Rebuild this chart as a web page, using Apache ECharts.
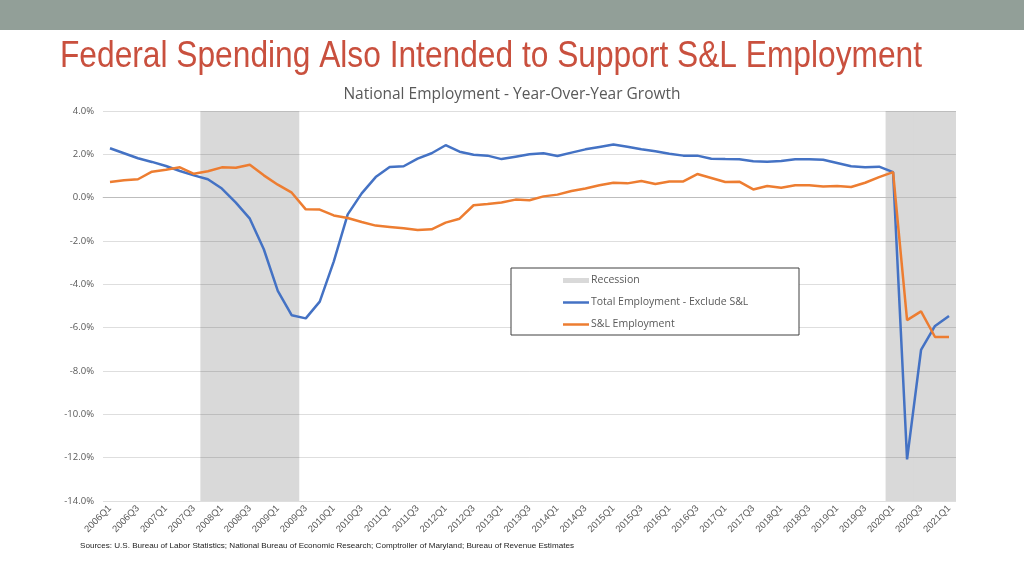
<!DOCTYPE html>
<html>
<head>
<meta charset="utf-8">
<script src="https://cdn.jsdelivr.net/npm/echarts@6/dist/echarts.min.js"></script>
<style>
html,body{margin:0;padding:0;background:#fff;}
#c{width:1024px;height:576px;}
</style>
</head>
<body>
<div id="c"></div>
<script>
const quarters = [
 '2006Q1','2006Q2','2006Q3','2006Q4','2007Q1','2007Q2','2007Q3','2007Q4',
 '2008Q1','2008Q2','2008Q3','2008Q4','2009Q1','2009Q2','2009Q3','2009Q4',
 '2010Q1','2010Q2','2010Q3','2010Q4','2011Q1','2011Q2','2011Q3','2011Q4',
 '2012Q1','2012Q2','2012Q3','2012Q4','2013Q1','2013Q2','2013Q3','2013Q4',
 '2014Q1','2014Q2','2014Q3','2014Q4','2015Q1','2015Q2','2015Q3','2015Q4',
 '2016Q1','2016Q2','2016Q3','2016Q4','2017Q1','2017Q2','2017Q3','2017Q4',
 '2018Q1','2018Q2','2018Q3','2018Q4','2019Q1','2019Q2','2019Q3','2019Q4',
 '2020Q1','2020Q2','2020Q3','2020Q4','2021Q1'
];
const totalExSL = [
 2.28,2.05,1.82,1.65,1.46,1.23,1.03,0.85,0.42,-0.23,
 -0.97,-2.38,-4.3,-5.43,-5.57,-4.8,-2.95,-0.77,0.2,0.95,
 1.42,1.45,1.8,2.05,2.42,2.12,1.98,1.94,1.78,1.89,
 2.0,2.05,1.92,2.08,2.23,2.34,2.45,2.35,2.23,2.14,
 2.03,1.94,1.94,1.8,1.78,1.77,1.68,1.66,1.69,1.77,
 1.77,1.75,1.6,1.45,1.4,1.43,1.18,-12.08,-7.03,-5.92,-5.46
];
const slEmployment = [
 0.72,0.8,0.85,1.2,1.29,1.4,1.1,1.22,1.4,1.38,
 1.52,1.03,0.6,0.23,-0.54,-0.55,-0.82,-0.94,-1.12,-1.29,
 -1.35,-1.41,-1.49,-1.46,-1.15,-0.97,-0.35,-0.29,-0.22,-0.09,
 -0.12,0.06,0.14,0.31,0.42,0.57,0.69,0.66,0.77,0.63,
 0.75,0.75,1.09,0.91,0.72,0.74,0.38,0.54,0.46,0.57,
 0.57,0.51,0.54,0.49,0.69,0.95,1.18,-5.65,-5.25,-6.43,-6.43
];
const recessionQuarters = ['2007Q4','2008Q1','2008Q2','2008Q3','2008Q4','2009Q1','2009Q2',
 '2020Q1','2020Q2','2020Q3','2020Q4','2021Q1'];
const yMin = -14, yMax = 4, yStep = 2;

const recTop = quarters.map(q => recessionQuarters.includes(q) ? yMax : '-');
const recBottom = quarters.map(q => recessionQuarters.includes(q) ? yMin : '-');

const mainTitle = 'Federal Spending Also Intended to Support S&L Employment';
const titleFont = "36px 'Liberation Sans'";
const mctx = document.createElement('canvas').getContext('2d');
mctx.font = titleFont;
const titleScale = 862 / mctx.measureText(mainTitle).width;

const chart = echarts.init(document.getElementById('c'));
const grey = '#595959';
const recColor = '#D9D9D9';
chart.setOption({
  animation: false,
  backgroundColor: '#ffffff',
  title: {
    text: 'National Employment - Year-Over-Year Growth',
    left: 'center', top: 82,
    textStyle: {fontFamily: 'Open Sans', fontSize: 15.5, fontWeight: 'normal', color: grey}
  },
  graphic: [
    {type: 'rect', shape: {x: 0, y: 0, width: 1024, height: 30}, style: {fill: '#929F98'}, z: 0},
    {type: 'text', x: 60, y: 39, scaleX: titleScale, style: {
      text: mainTitle, font: titleFont, verticalAlign: 'top', fill: '#C9503E'}},
    {type: 'text', left: 80, top: 542, style: {
      text: 'Sources: U.S. Bureau of Labor Statistics; National Bureau of Economic Research; Comptroller of Maryland; Bureau of Revenue Estimates',
      fontFamily: 'Liberation Sans', fontSize: 8.1, fill: '#222'}},
    {type: 'rect', shape: {x: 511, y: 268, width: 288, height: 67},
      style: {fill: '#fff', stroke: '#404040', lineWidth: 1}, z: 1, zlevel: 2}
  ],
  legend: {
    orient: 'vertical', left: 563, top: 275, itemGap: 11, itemWidth: 26, itemHeight: 14,
    padding: 0, z: 20, zlevel: 2,
    textStyle: {fontFamily: 'Open Sans', fontSize: 10.5, color: grey, padding: [0,0,0,-3]},
    data: [
      {name: 'Recession', icon: 'path://M0,0 L26,0 L26,5 L0,5 Z', itemStyle: {color: recColor}},
      {name: 'Total Employment - Exclude S&L', icon: 'path://M0,0 L26,0 L26,2.5 L0,2.5 Z', itemStyle: {color: '#4472C4'}},
      {name: 'S&L Employment', icon: 'path://M0,0 L26,0 L26,2.5 L0,2.5 Z', itemStyle: {color: '#ED7D31'}}
    ]
  },
  grid: {left: 103, right: 68, top: 111, bottom: 75},
  xAxis: {
    type: 'category', data: quarters, boundaryGap: true,
    axisTick: {show: false},
    axisLine: {lineStyle: {color: '#D9D9D9'}},
    axisLabel: {interval: 1, rotate: 45, fontFamily: 'Liberation Sans', fontSize: 9.5, color: grey, margin: 6}
  },
  yAxis: {
    type: 'value', min: yMin, max: yMax, interval: yStep, zlevel: 1,
    axisLine: {show: false}, axisTick: {show: false},
    splitLine: {lineStyle: {color: 'rgba(0,0,0,0.13)', width: 1}},
    axisLabel: {formatter: v => v.toFixed(1) + '%', fontFamily: 'Open Sans', fontSize: 9.5, color: grey, margin: 9}
  },
  series: [
    {name: 'Recession', type: 'bar', data: recTop, barWidth: 15, barGap: '-100%',
      itemStyle: {color: recColor}, z: 1, silent: true},
    {name: 'Recession', type: 'bar', data: recBottom, barWidth: 15, barGap: '-100%',
      itemStyle: {color: recColor}, z: 1, silent: true},
    {name: 'Total Employment - Exclude S&L', type: 'line', data: totalExSL,
      symbol: 'none', showSymbol: false, z: 5, zlevel: 1,
      lineStyle: {color: '#4472C4', width: 2.5}, itemStyle: {color: '#4472C4'}},
    {name: 'S&L Employment', type: 'line', data: slEmployment,
      symbol: 'none', showSymbol: false, z: 5, zlevel: 1,
      lineStyle: {color: '#ED7D31', width: 2.5}, itemStyle: {color: '#ED7D31'}}
  ]
});
</script>
</body>
</html>
